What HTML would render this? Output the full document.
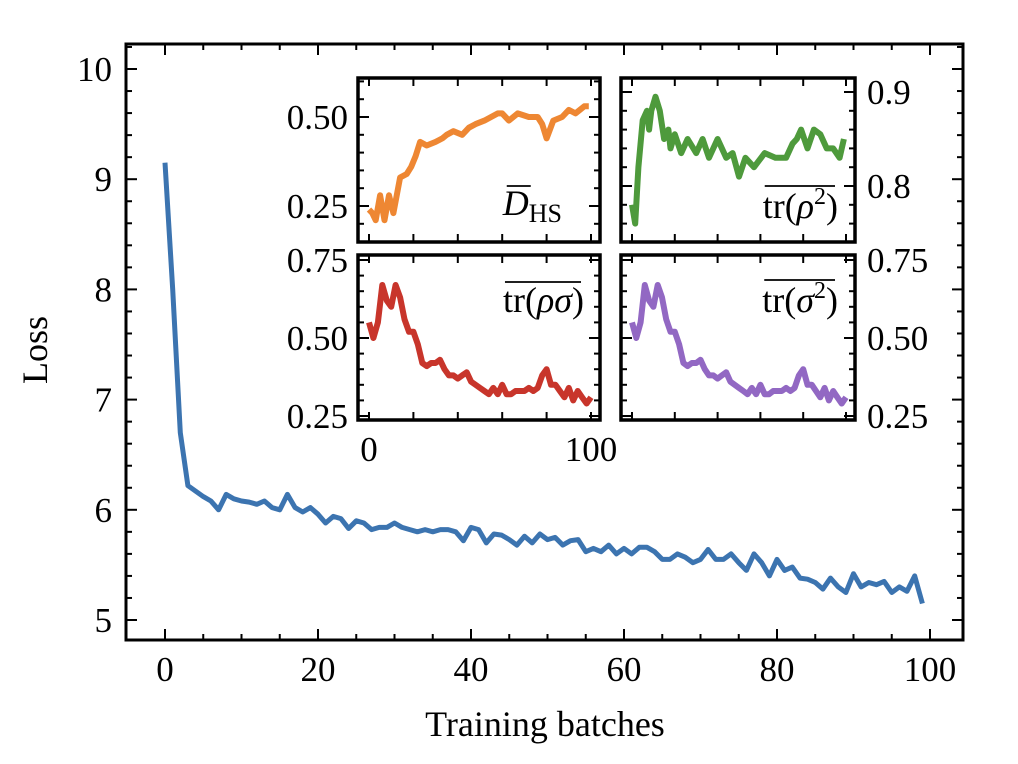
<!DOCTYPE html>
<html><head><meta charset="utf-8"><style>
html,body{margin:0;padding:0;background:#fff;}
svg{display:block;font-family:"Liberation Serif","DejaVu Serif",serif;}
</style></head><body>
<svg id="chart" width="1018" height="764" viewBox="0 0 1018 764"></svg>
<script>
// ---- main data ----
const lossX = Array.from({length:100},(_, i)=>i);
const lossValues = [9.15,8.0,6.7,6.22,6.17,6.12,6.08,6.0,6.14,6.1,6.08,6.07,6.05,6.08,6.02,6.0,6.14,6.02,5.98,6.02,5.96,5.88,5.94,5.92,5.83,5.9,5.88,5.82,5.84,5.84,5.88,5.84,5.82,5.8,5.82,5.8,5.82,5.82,5.8,5.72,5.84,5.82,5.7,5.78,5.77,5.73,5.68,5.76,5.7,5.78,5.73,5.75,5.68,5.72,5.73,5.62,5.65,5.62,5.68,5.6,5.65,5.6,5.66,5.66,5.62,5.55,5.55,5.6,5.57,5.52,5.55,5.64,5.55,5.55,5.6,5.52,5.45,5.6,5.52,5.4,5.55,5.45,5.48,5.38,5.37,5.34,5.28,5.38,5.3,5.25,5.42,5.3,5.34,5.32,5.35,5.25,5.3,5.26,5.4,5.15];
const mainXTicks = [0,20,40,60,80,100];
const mainYTicks = [5,6,7,8,9,10];
// ---- inset data ----
const dhsX = [0,1.5,3,5,7,9,11,14,17,19,21,23,26,30,33,35,38,42,45,48,52,55,58,60,63,67,72,76,78,80,83,87,90,93,95,97,99];
const dhsValues = [0.24,0.23,0.21,0.28,0.21,0.28,0.23,0.33,0.34,0.36,0.39,0.43,0.42,0.43,0.44,0.45,0.46,0.45,0.47,0.48,0.49,0.50,0.51,0.51,0.49,0.51,0.50,0.50,0.48,0.44,0.49,0.50,0.52,0.51,0.52,0.53,0.53];
const purityRhoX = [0,1.5,3,5,7,8,9,11,13,15,17,18,20,23,26,30,33,36,40,44,47,50,53,57,62,67,72,75,77,79,82,85,88,91,94,97,99];
const purityRhoValues = [0.78,0.76,0.82,0.87,0.88,0.86,0.88,0.895,0.88,0.85,0.86,0.84,0.855,0.835,0.85,0.835,0.85,0.83,0.85,0.83,0.835,0.81,0.83,0.82,0.835,0.83,0.83,0.845,0.85,0.86,0.84,0.86,0.855,0.84,0.84,0.83,0.85];
const overlapX = [0,2,4,6,8,10,12,14,16,18,20,22,24,26,28,30,32,34,36,38,40,42,44,46,48,50,52,54,56,58,60,62,64,66,68,70,72,74,76,78,80,82,84,86,88,90,92,94,96,98,100];
const overlapValues = [0.55,0.50,0.55,0.67,0.62,0.60,0.67,0.63,0.56,0.52,0.52,0.48,0.42,0.41,0.42,0.42,0.43,0.40,0.38,0.38,0.37,0.38,0.39,0.36,0.35,0.34,0.33,0.32,0.34,0.32,0.35,0.32,0.32,0.33,0.33,0.33,0.34,0.33,0.34,0.38,0.40,0.35,0.35,0.33,0.31,0.34,0.30,0.33,0.31,0.29,0.31];
const puritySigmaValues = [0.55,0.50,0.55,0.67,0.62,0.60,0.67,0.63,0.56,0.52,0.52,0.48,0.42,0.41,0.42,0.42,0.43,0.40,0.38,0.38,0.37,0.38,0.39,0.36,0.35,0.34,0.33,0.32,0.34,0.32,0.35,0.32,0.32,0.33,0.33,0.33,0.34,0.33,0.34,0.38,0.40,0.35,0.35,0.33,0.31,0.34,0.30,0.33,0.31,0.29,0.31];

const NS="http://www.w3.org/2000/svg";
const svg=document.getElementById('chart');
function mk(tag,attrs,parent){const e=document.createElementNS(NS,tag);for(const k in attrs)e.setAttribute(k,attrs[k]);(parent||svg).appendChild(e);return e;}
function lin(d0,d1,r0,r1){return v=>r0+(v-d0)*(r1-r0)/(d1-d0);}
const FS=35;

// main axes
const mx=lin(0,100,165,930), my=lin(5,10,620,69);
const L=126,R=963,T=44,B=640;
const g=mk('g',{});


let d='';
lossX.forEach((x,i)=>{d+=(i?'L':'M')+mx(x).toFixed(1)+' '+my(lossValues[i]).toFixed(1);});
const ln=mk('path',{d:d,fill:'none',stroke:'#3c74b0','stroke-width':5,'stroke-linejoin':'round'},g);


for(let v=0;v<=100.01;v+=5){const x=mx(v);if(x<L||x>R)continue;const len=(v%20===0)?11:6;
 mk('line',{x1:x,y1:B,x2:x,y2:B-len,stroke:'#000','stroke-width':2},g);
 mk('line',{x1:x,y1:T,x2:x,y2:T+len,stroke:'#000','stroke-width':2},g);}
for(let v=4.8;v<=10.41;v+=0.2){const y=my(v);if(y<T||y>B)continue;const maj=Math.abs(v-Math.round(v))<0.01;const len=maj?11:6;
 mk('line',{x1:L,y1:y,x2:L+len,y2:y,stroke:'#000','stroke-width':2},g);
 mk('line',{x1:R,y1:y,x2:R-len,y2:y,stroke:'#000','stroke-width':2},g);}
mainXTicks.forEach(v=>{const t=mk('text',{x:mx(v),y:681,'font-size':FS,'text-anchor':'middle'},g);t.textContent=v;
 
 });
mainYTicks.forEach(v=>{const t=mk('text',{x:112,y:my(v)+12,'font-size':FS,'text-anchor':'end'},g);t.textContent=v;
 
 });
mk('rect',{x:L,y:T,width:R-L,height:B-T,fill:'none',stroke:'#000','stroke-width':3},g);
const xt=mk('text',{x:545,y:736,'font-size':36,'text-anchor':'middle'},g);xt.textContent='Training batches';


const yt=mk('text',{x:47,y:350,'font-size':36,'text-anchor':'middle',transform:'rotate(-90 47 350)'},g);yt.textContent='Loss';



function inset(o){
 const ig=mk('g',{});
 
 
 mk('rect',{x:o.l,y:o.t,width:o.r-o.l,height:o.b-o.t,fill:'#fff'},ig);
 const sx=lin(0,100,o.l+11,o.r-9), sy=lin(o.y0,o.y1,o.py0,o.py1);
 let p='';o.xs.forEach((x,i)=>{p+=(i?'L':'M')+sx(x).toFixed(1)+' '+sy(o.vs[i]).toFixed(1);});
 const s=mk('path',{d:p,fill:'none',stroke:o.color,'stroke-width':6,'stroke-linejoin':'round'},ig);
 
 
 for(let v=0;v<=100;v+=20){const x=sx(v);
  mk('line',{x1:x,y1:o.b,x2:x,y2:o.b-8,stroke:'#000','stroke-width':2},ig);
  mk('line',{x1:x,y1:o.t,x2:x,y2:o.t+8,stroke:'#000','stroke-width':2},ig);}
 const n=Math.round((o.hi-o.lo)/o.minor);
 for(let k=0;k<=n;k++){const v=o.lo+k*o.minor;const y=sy(v);if(y<o.t||y>o.b)continue;
  const maj=o.majors.some(m=>Math.abs(m-v)<1e-6);const len=maj?11:6;
  mk('line',{x1:o.l,y1:y,x2:o.l+len,y2:y,stroke:'#000','stroke-width':2},ig);
  mk('line',{x1:o.r,y1:y,x2:o.r-len,y2:y,stroke:'#000','stroke-width':2},ig);}
 o.majors.forEach((m,i)=>{const right=o.side==='right';
  const t=mk('text',{x:right?o.r+12:o.l-10,y:sy(m)+12,'font-size':FS,'text-anchor':right?'start':'end'},ig);t.textContent=o.labels[i];
  
  });
 mk('rect',{x:o.l,y:o.t,width:o.r-o.l,height:o.b-o.t,fill:'none',stroke:'#000','stroke-width':3.5},ig);
 const lab=mk('text',{x:o.lx,y:o.ly,'font-size':36,'text-anchor':'end'},ig);lab.innerHTML=o.label;
 
 
 let bx;
 if(o.barD){const e=lab.getExtentOfChar(0);bx=[e.x+4,e.x+e.width+2,e.y+3];}
 else{const bb=lab.getBBox();bx=[bb.x+2,bb.x+bb.width-3,bb.y+2];}
 const ov=mk('line',{x1:bx[0],y1:bx[2],x2:bx[1],y2:bx[2],stroke:'#000','stroke-width':1.8},ig);
 
 
 return sx;
}
inset({name:'inset-dhs',l:358,r:600,t:78,b:242,y0:0.25,y1:0.5,py0:206,py1:117,lo:0.2,hi:0.6,minor:0.05,majors:[0.25,0.5],labels:['0.25','0.50'],side:'left',xs:dhsX,vs:dhsValues,color:'#ee8733',
 label:'<tspan font-style="italic">D</tspan><tspan font-size="26" dy="7">HS</tspan>',lx:562,ly:215,barD:true});
inset({name:'inset-tr-rho2',l:621,r:855,t:78,b:242,y0:0.8,y1:0.9,py0:186,py1:92,lo:0.74,hi:0.96,minor:0.02,majors:[0.8,0.9],labels:['0.8','0.9'],side:'right',xs:purityRhoX,vs:purityRhoValues,color:'#4e9a3c',
 label:'tr(<tspan font-style="italic">ρ</tspan><tspan font-size="24" dy="-14">2</tspan><tspan dy="14">)</tspan>',lx:838,ly:218});
const sx3=inset({name:'inset-tr-rho-sigma',l:358,r:600,t:255,b:420,y0:0.25,y1:0.75,py0:416,py1:260,lo:0.25,hi:0.75,minor:0.05,majors:[0.25,0.5,0.75],labels:['0.25','0.50','0.75'],side:'left',xs:overlapX,vs:overlapValues,color:'#c8352b',
 label:'tr(<tspan font-style="italic">ρσ</tspan>)',lx:584,ly:312});
inset({name:'inset-tr-sigma2',l:621,r:855,t:255,b:420,y0:0.25,y1:0.75,py0:416,py1:260,lo:0.25,hi:0.75,minor:0.05,majors:[0.25,0.5,0.75],labels:['0.25','0.50','0.75'],side:'right',xs:overlapX,vs:puritySigmaValues,color:'#9268c3',
 label:'tr(<tspan font-style="italic">σ</tspan><tspan font-size="24" dy="-14">2</tspan><tspan dy="14">)</tspan>',lx:838,ly:312});
[0,100].forEach(v=>{const t=mk('text',{x:sx3(v),y:461,'font-size':FS,'text-anchor':'middle'});t.textContent=v;
 
 });
</script>
</body></html>
